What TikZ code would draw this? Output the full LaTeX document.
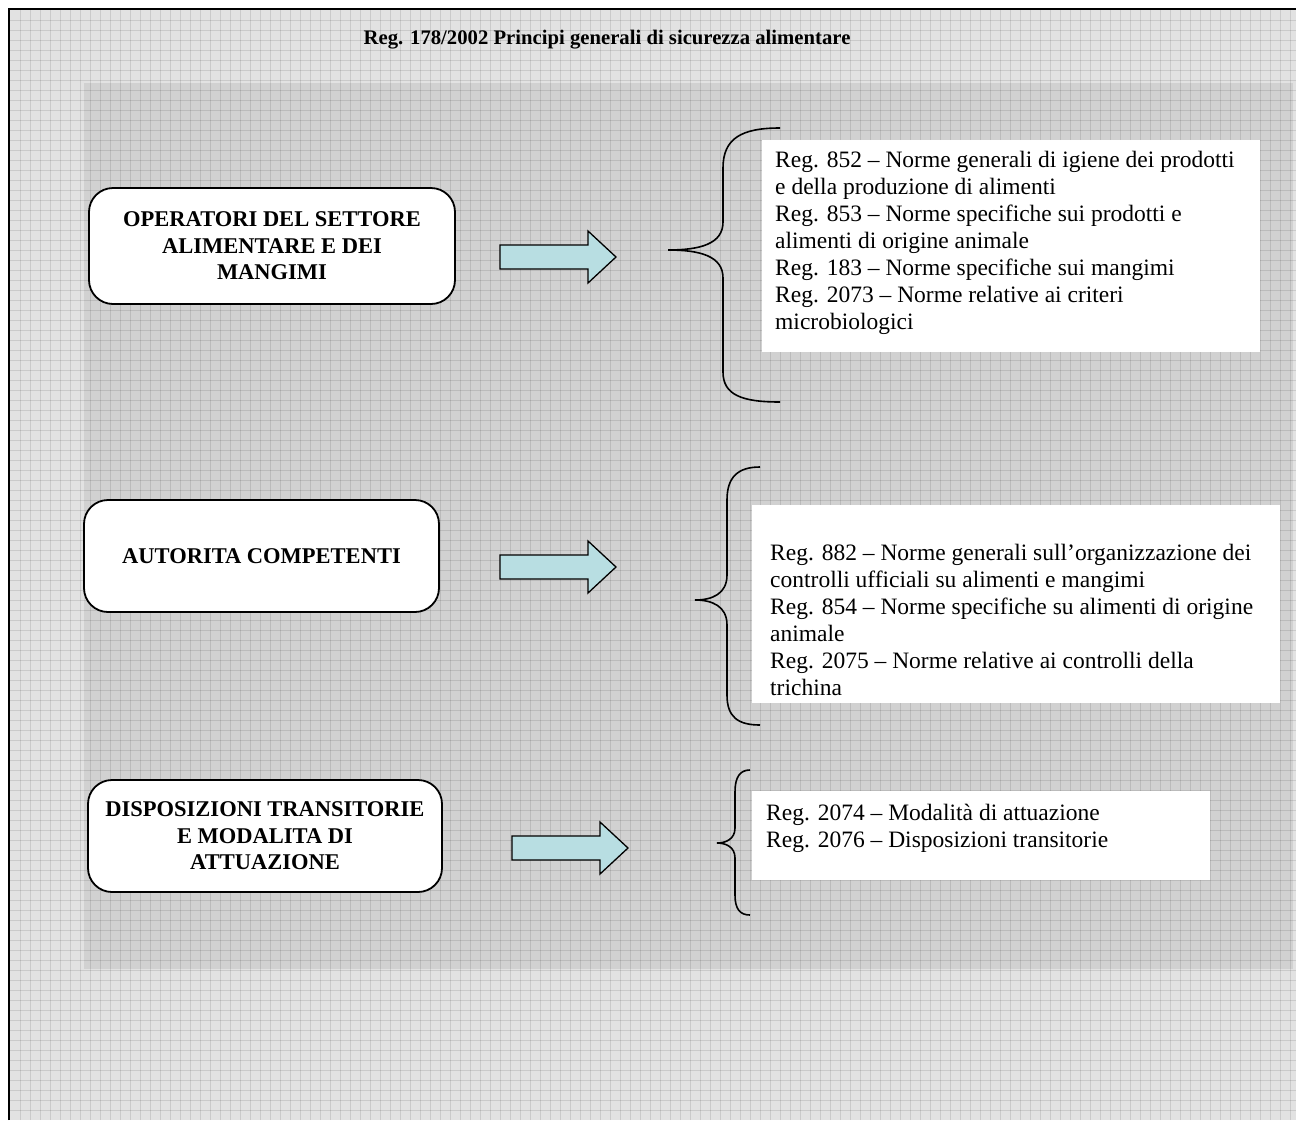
\documentclass[tikz,border=0pt]{standalone}
\usepackage{fontspec}
\setmainfont{Liberation Serif}
\usetikzlibrary{calc}
\definecolor{bgout}{RGB}{226,226,226}
\definecolor{arrowc}{RGB}{184,222,226}
\tikzset{
  gridline/.style={draw=black, draw opacity=0.10, line width=0.9pt},
  catbox/.style={draw=black, line width=1.8pt, fill=white, rounded corners=24pt, inner sep=0pt,
    align=center, font=\fontsize{22.5}{26.5}\selectfont\bfseries},
  listbox/.style={fill=white, draw=none, inner sep=0pt, anchor=north west},
  listtext/.style={inner sep=0pt, anchor=north west, align=left, font=\fontsize{23.5}{27}\selectfont},
  blockarrow/.style={draw=black, line width=1.3pt, fill=arrowc, line join=miter},
  bracestyle/.style={draw=black, line width=1.6pt},
}
\begin{document}
\begin{tikzpicture}[x=1pt,y=-1pt]
\useasboundingbox (0,0) rectangle (1296,1120);
\fill[white] (0,0) rectangle (1296,1120);
% page background with grid
\fill[bgout] (9,9) rectangle (1296,1120);
\fill[black, opacity=0.075] (84,83) rectangle (1293,969);
\foreach \x in {20,30,...,1290} \draw[gridline] (\x,10) -- (\x,1120);
\foreach \y in {20,30,...,1110} \draw[gridline] (10,\y) -- (1296,\y);
\draw[line width=2pt] (9,1120) -- (9,9) -- (1296,9);

% title
\node[font=\fontsize{20.7}{24}\selectfont\bfseries] (title) at (607,40) {Reg. 178/2002 Principi generali di sicurezza alimentare};

% category boxes
\node[catbox, minimum width=366pt, minimum height=116pt] (c1) at (272,246)
  {OPERATORI DEL SETTORE\\ALIMENTARE E DEI\\MANGIMI};
\node[catbox, minimum width=355pt, minimum height=112pt] (c2) at (261.5,556)
  {AUTORITA COMPETENTI};
\node[catbox, minimum width=354pt, minimum height=112pt] (c3) at (265,836)
  {DISPOSIZIONI TRANSITORIE\\E MODALITA DI\\ATTUAZIONE};

% block arrows
\coordinate (a1) at (500,257);
\coordinate (a2) at (500,567);
\coordinate (a3) at (512,848);
\foreach \a in {a1,a2,a3}
  \draw[blockarrow] ($(\a)+(0,-12)$) -- ++(88,0) -- ++(0,-14) -- ++(28,26) -- ++(-28,26) -- ++(0,-14) -- ++(-88,0) -- cycle;

% braces
\draw[bracestyle] (780,128) .. controls (742,128) and (723,138) .. (723,168) -- (723,222)
  .. controls (723,244) and (700,250) .. (668,250)
  .. controls (700,250) and (723,256) .. (723,278) -- (723,372)
  .. controls (723,395) and (742,402) .. (780,402);
\draw[bracestyle] (760,467) .. controls (738,467) and (727,477) .. (727,500) -- (727,575)
  .. controls (727,594) and (712,600) .. (695,600)
  .. controls (712,600) and (727,606) .. (727,625) -- (727,695)
  .. controls (727,717) and (738,725) .. (760,725);
\draw[bracestyle] (750,770) .. controls (740,770) and (735,777) .. (735,792) -- (735,828)
  .. controls (735,839) and (726,843) .. (717,843)
  .. controls (726,843) and (735,847) .. (735,858) -- (735,895)
  .. controls (735,909) and (740,915) .. (750,915);

% list boxes
\node[listbox, minimum width=498pt, minimum height=212pt] (l1) at (762,140) {};
\node[listtext] (t1) at (775,150.5) {Reg. 852 – Norme generali di igiene dei prodotti\\e della produzione di alimenti\\Reg. 853 – Norme specifiche sui prodotti e\\alimenti di origine animale\\Reg. 183 – Norme specifiche sui mangimi\\Reg. 2073 – Norme relative ai criteri\\microbiologici};
\node[listbox, minimum width=528pt, minimum height=198pt] (l2) at (752,505) {};
\node[listtext] (t2) at (770,544) {Reg. 882 – Norme generali sull’organizzazione dei\\controlli ufficiali su alimenti e mangimi\\Reg. 854 – Norme specifiche su alimenti di origine\\animale\\Reg. 2075 – Norme relative ai controlli della\\trichina};
\node[listbox, minimum width=458pt, minimum height=89pt] (l3) at (752,791) {};
\node[listtext] (t3) at (766,804) {Reg. 2074 – Modalità di attuazione\\Reg. 2076 – Disposizioni transitorie};
\end{tikzpicture}
\end{document}
